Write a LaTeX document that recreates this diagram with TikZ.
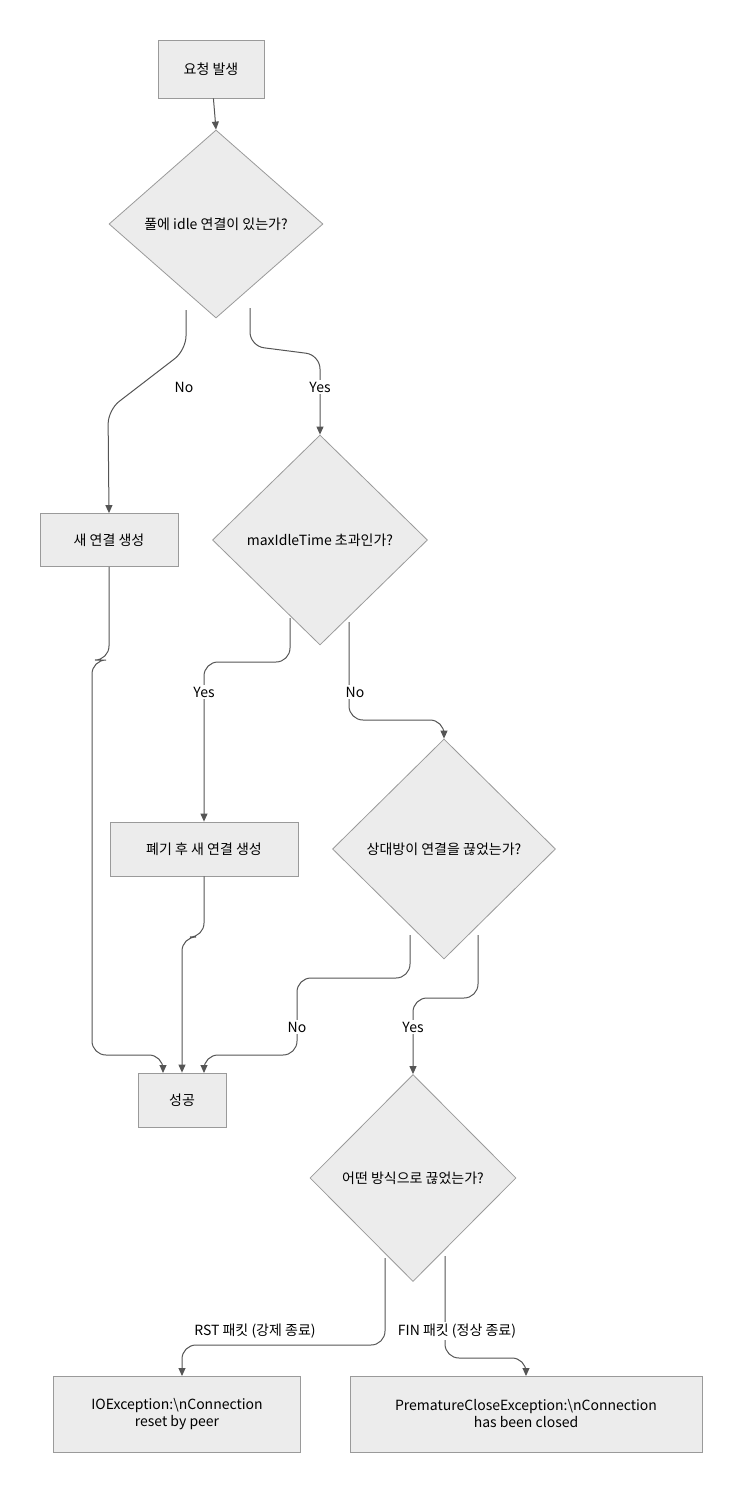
\documentclass[tikz,border=0pt]{standalone}
\usepackage{fontspec}
\setmainfont{Noto Sans CJK KR}
\usetikzlibrary{shapes.geometric,arrows.meta,calc}
\definecolor{bx}{HTML}{ECECEC}
\definecolor{bd}{HTML}{9A9A9A}
\definecolor{ln}{HTML}{555555}
\begin{document}
\begin{tikzpicture}[x=1pt,y=-1pt,
  every node/.style={font=\fontsize{14}{17}\selectfont},
  box/.style={draw=bd,fill=bx,line width=0.8pt,inner sep=0pt,align=center},
  dia/.style={diamond,draw=bd,fill=bx,line width=0.8pt,inner sep=0pt},
  edge/.style={draw=ln,line width=1pt,rounded corners=14pt,-{Triangle[length=8pt,width=7pt]}},
  lab/.style={fill=white,inner sep=2pt}]
\useasboundingbox (0,0) rectangle (743,1494);
\node[box,minimum width=106,minimum height=58] (a) at (211,69) {요청 발생};
\node[dia,minimum width=214,minimum height=188] (d1) at (216,224) {};
\node at (d1) {풀에 idle 연결이 있는가?};
\node[box,minimum width=138,minimum height=53] (n1) at (109,540) {새 연결 생성};
\node[dia,minimum width=215,minimum height=210] (d2) at (320,540) {};
\node at (d2) {maxIdleTime 초과인가?};
\node[box,minimum width=188,minimum height=54] (n2) at (204,849) {폐기 후 새 연결 생성};
\node[dia,minimum width=223,minimum height=220] (d3) at (444,849) {};
\node at (d3) {상대방이 연결을 끊었는가?};
\node[box,minimum width=88,minimum height=54] (ok) at (182,1100) {성공};
\node[dia,minimum width=206,minimum height=207] (d4) at (413,1178) {};
\node at (d4) {어떤 방식으로 끊었는가?};
\node[box,minimum width=247,minimum height=76] (e1) at (177,1414) {IOException:\textbackslash nConnection\\reset by peer};
\node[box,minimum width=352,minimum height=76] (e2) at (526,1414) {PrematureCloseException:\textbackslash nConnection\\has been closed};

\draw[edge,rounded corners=0] (a) -- (d1.north);
\draw[edge] ($(d1.center)+(-30,86)$) -- ++(0,40) -- (108,410) -- (n1.north);
\node[lab] at (184,387) {No};
\draw[edge] ($(d1.center)+(34,84)$) -- ++(0,38) -- (320,355) -- (d2.north);
\node[lab] at (320,387) {Yes};
\draw[edge] (n1.south) -- (109,660) -- (92,660) -- (92,1055) -- (163,1055) -- (163,1073);
\draw[edge] ($(d2.center)+(-30,78)$) -- (290,662) -- (204,662) -- (n2.north);
\node[lab] at (204,692) {Yes};
\draw[edge] ($(d2.center)+(29,82)$) -- (349,720) -- (444,720) -- (d3.north);
\node[lab] at (355,692) {No};
\draw[edge] (n2.south) -- (204,937) -- (182,937) -- (ok.north);
\draw[edge] ($(d3.center)+(-34,86)$) -- (410,978) -- (297,978) -- (297,1055) -- (204,1055) -- (204,1073);
\node[lab] at (297,1027) {No};
\draw[edge] ($(d3.center)+(34,86)$) -- (478,998) -- (413,998) -- (d4.north);
\node[lab] at (413,1027) {Yes};
\draw[edge] ($(d4.center)+(-28,80)$) -- (385,1345) -- (182,1345) -- (182,1376);
\node[lab] at (255,1331) {RST 패킷 (강제 종료)};
\draw[edge] ($(d4.center)+(32,78)$) -- (445,1358) -- (526,1358) -- (526,1376);
\node[lab] at (457,1331) {FIN 패킷 (정상 종료)};
\end{tikzpicture}
\end{document}
